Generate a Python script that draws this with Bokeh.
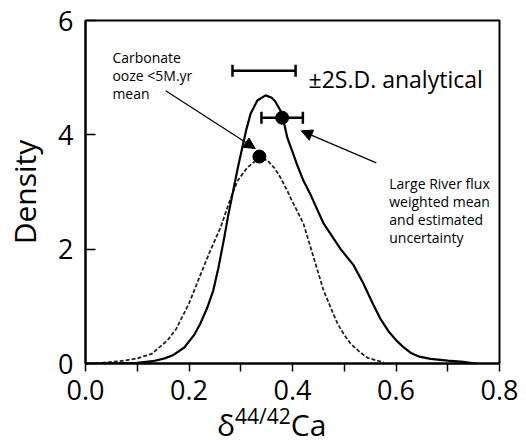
from bokeh.plotting import figure
from bokeh.layouts import column
from bokeh.models import (Range1d, FixedTicker, Label, Arrow, NormalHead, Whisker,
                          TeeHead, ColumnDataSource, PrintfTickFormatter, Div)
from bokeh.embed import file_html
from bokeh.resources import INLINE

# ---- data ----
river_x = [0.00, 0.05, 0.10, 0.13, 0.153, 0.17, 0.191, 0.21, 0.222, 0.235, 0.247, 0.257,
           0.267, 0.276, 0.286, 0.295, 0.303, 0.311, 0.319, 0.332, 0.348, 0.360, 0.367,
           0.377, 0.385, 0.390, 0.400, 0.410, 0.421, 0.435, 0.460, 0.493, 0.518, 0.537,
           0.555, 0.570, 0.585, 0.601, 0.615, 0.628, 0.645, 0.667, 0.700, 0.730, 0.754]
river_y = [0.00, 0.00, 0.01, 0.04, 0.09, 0.15, 0.28, 0.50, 0.70, 0.97, 1.28, 1.68,
           2.15, 2.60, 3.05, 3.45, 3.78, 4.10, 4.37, 4.60, 4.69, 4.65, 4.58,
           4.42, 4.15, 3.95, 3.70, 3.45, 3.20, 2.95, 2.45, 2.00, 1.72, 1.40,
           1.05, 0.78, 0.57, 0.40, 0.28, 0.19, 0.12, 0.08, 0.05, 0.03, 0.00]

ooze_x = [0.020, 0.075, 0.100, 0.128, 0.158, 0.175, 0.185, 0.200, 0.222, 0.240, 0.261,
          0.275, 0.286, 0.294, 0.313, 0.336, 0.352, 0.365, 0.377, 0.390, 0.396, 0.410,
          0.421, 0.441, 0.460, 0.475, 0.487, 0.500, 0.512, 0.530, 0.545, 0.560, 0.576]
ooze_y = [0.00, 0.05, 0.09, 0.17, 0.40, 0.60, 0.78, 1.05, 1.55, 1.95, 2.38,
          2.75, 3.02, 3.20, 3.43, 3.60, 3.55, 3.42, 3.25, 3.02, 2.90, 2.65,
          2.45, 1.85, 1.28, 0.95, 0.70, 0.50, 0.35, 0.20, 0.10, 0.06, 0.02]

river_mean = [0.380]
river_density = [4.30]
river_err = [0.040]

ooze_mean = [0.336]
ooze_density = [3.62]

analytical_center = [0.345]
analytical_y = [5.12]
analytical_half = [0.061]

x_ticks = [0.0, 0.2, 0.4, 0.6, 0.8]
x_minor = [0.1, 0.3, 0.5, 0.7]
y_ticks = [0, 2, 4, 6]

FONT = "Open Sans"

p = figure(width=526, height=441, output_backend="svg", toolbar_location=None,
           x_range=Range1d(0, 0.8), y_range=Range1d(0, 6),
           min_border_left=85, min_border_right=27, min_border_top=20, min_border_bottom=78)
p.grid.visible = False
p.outline_line_color = "black"
p.outline_line_width = 2
p.background_fill_color = "white"
p.border_fill_color = "white"

# axes
p.xaxis.ticker = FixedTicker(ticks=x_ticks, minor_ticks=x_minor)
p.yaxis.ticker = FixedTicker(ticks=y_ticks)
p.xaxis.formatter = PrintfTickFormatter(format="%.1f")
for ax in (p.xaxis, p.yaxis):
    ax.axis_line_color = "black"
    ax.axis_line_width = 2
    ax.major_tick_line_color = "black"
    ax.major_tick_line_width = 1.5
    ax.minor_tick_line_color = "black"
    ax.minor_tick_line_width = 1.5
    ax.major_label_text_font = FONT
    ax.major_label_text_font_size = "27px"
    ax.major_label_text_color = "black"
p.xaxis.major_tick_in = 0
p.xaxis.major_tick_out = 8
p.xaxis.minor_tick_in = 0
p.xaxis.minor_tick_out = 8
p.xaxis.major_label_standoff = 8
p.yaxis.major_tick_in = 10
p.yaxis.major_tick_out = 0
p.yaxis.minor_tick_in = 0
p.yaxis.minor_tick_out = 0
p.yaxis.major_label_standoff = 12
p.yaxis.axis_label = "Density"
p.yaxis.axis_label_text_font = FONT
p.yaxis.axis_label_text_font_size = "30px"
p.yaxis.axis_label_text_font_style = "normal"
p.yaxis.axis_label_text_color = "black"
p.yaxis.axis_label_standoff = 10

# curves
p.line(ooze_x, ooze_y, line_color="#222222", line_width=1.8, line_dash="4 2")
p.line(river_x, river_y, line_color="black", line_width=2.2)

# error bars
eb = ColumnDataSource(dict(base=river_density,
                           lower=[m - e for m, e in zip(river_mean, river_err)],
                           upper=[m + e for m, e in zip(river_mean, river_err)]))
p.add_layout(Whisker(source=eb, base="base", lower="lower", upper="upper", dimension="width",
                     line_color="black", line_width=2.5,
                     lower_head=TeeHead(size=12, line_width=2.5, line_color="black"),
                     upper_head=TeeHead(size=12, line_width=2.5, line_color="black")))
ab = ColumnDataSource(dict(base=analytical_y,
                           lower=[c - h for c, h in zip(analytical_center, analytical_half)],
                           upper=[c + h for c, h in zip(analytical_center, analytical_half)]))
p.add_layout(Whisker(source=ab, base="base", lower="lower", upper="upper", dimension="width",
                     line_color="black", line_width=2.5,
                     lower_head=TeeHead(size=12, line_width=2.5, line_color="black"),
                     upper_head=TeeHead(size=12, line_width=2.5, line_color="black")))

# dots
p.scatter(river_mean, river_density, size=13, color="black")
p.scatter(ooze_mean, ooze_density, size=13, color="black")

# arrows
p.add_layout(Arrow(end=NormalHead(size=11, fill_color="black", line_color="black"),
                   x_start=0.155, y_start=4.77, x_end=0.328, y_end=3.76,
                   line_color="black", line_width=1.2))
p.add_layout(Arrow(end=NormalHead(size=11, fill_color="black", line_color="black"),
                   x_start=0.562, y_start=3.51, x_end=0.417, y_end=4.07,
                   line_color="black", line_width=1.2))

def lab(x, y, t, size, **kw):
    p.add_layout(Label(x=x, y=y, text=t, text_font=FONT, text_font_size=size,
                       text_color="black", **kw))

for i, t in enumerate(["Carbonate", "ooze <5M.yr", "mean"]):
    lab(0.052, 5.35 - i * 0.315, t, "14px", text_baseline="alphabetic")
for i, t in enumerate(["Large River flux", "weighted mean", "and estimated", "uncertainty"]):
    lab(0.587, 3.15 - i * 0.315, t, "14px", text_baseline="alphabetic")
lab(0.431, 4.97, "\u00b12S.D. analytical", "23px", text_baseline="alphabetic")

# x-axis title with a real superscript, laid over the bottom border of the plot
xtitle = Div(text='\u03b4<span style="font-size:21px;vertical-align:12px;line-height:0">'
                  '44/42</span>Ca',
             width=200, height=32, margin=(-32, 0, 0, 217),
             styles={"font-family": "Open Sans", "font-size": "30px", "line-height": "32px",
                     "color": "black", "white-space": "nowrap", "overflow": "visible"})

layout = column(p, xtitle, spacing=0)
open("out.html", "w").write(file_html(layout, INLINE))
